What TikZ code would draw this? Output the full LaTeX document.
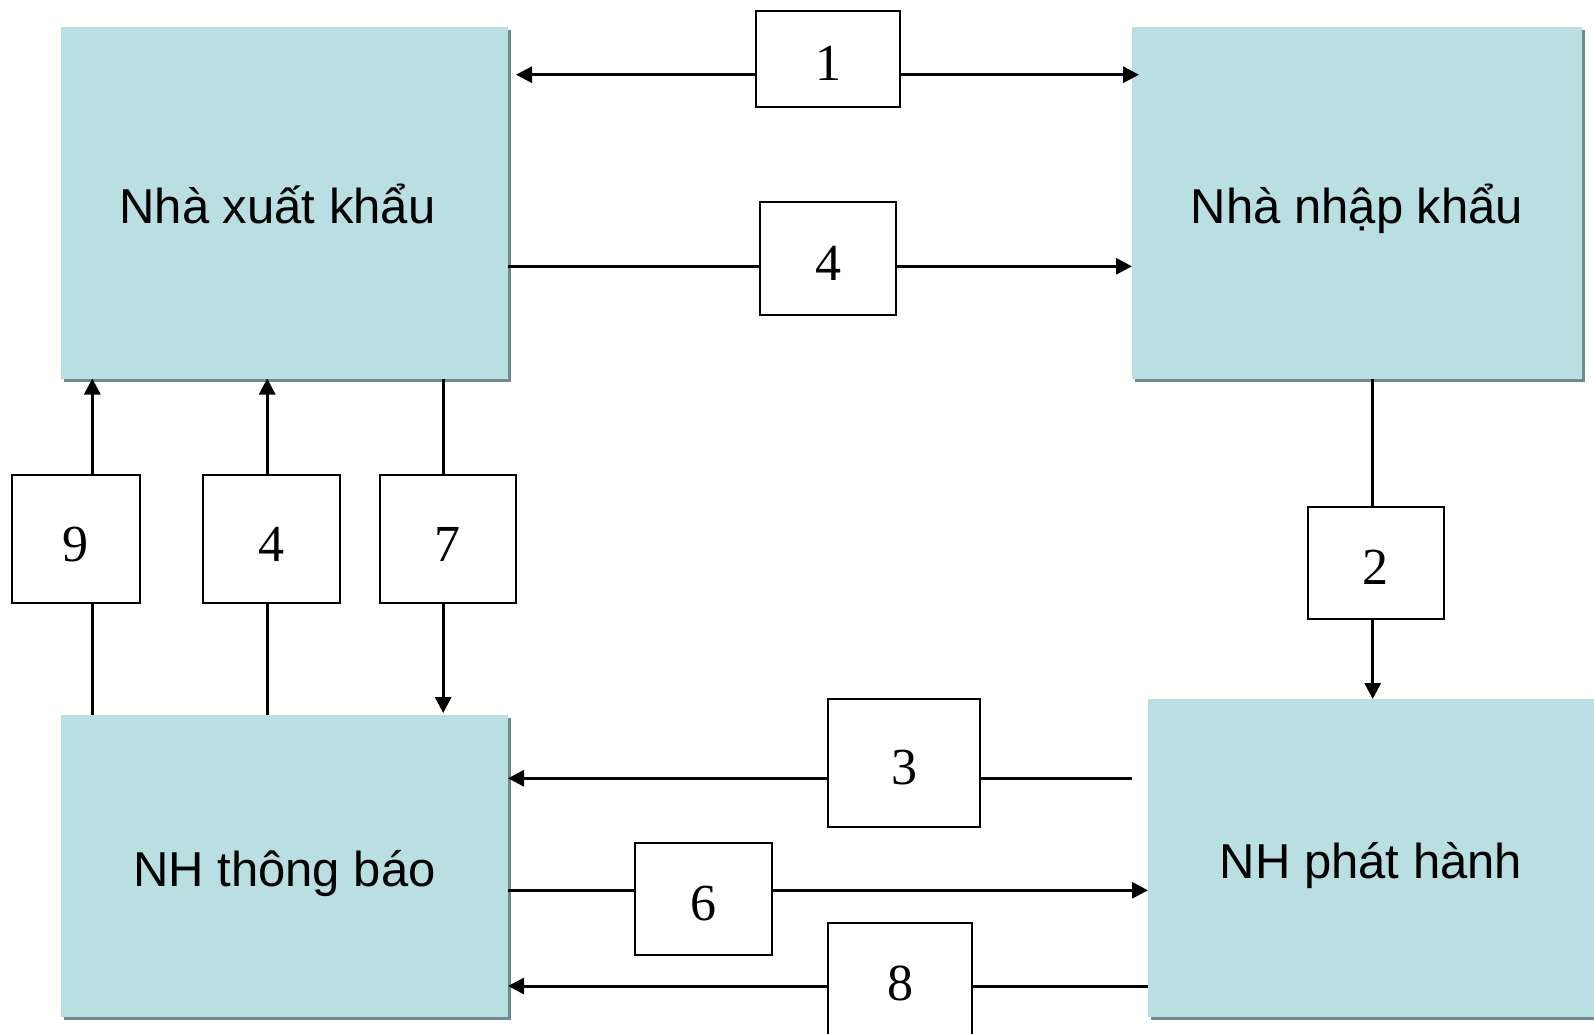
\documentclass[tikz,border=0pt]{standalone}
\usepackage{fontspec}
\setmainfont{Liberation Sans}
\newfontfamily\numfont{Liberation Serif}
\usetikzlibrary{positioning,arrows.meta,shadows}
\definecolor{partyfill}{HTML}{B9DFE2}
\definecolor{partyshade}{HTML}{6F8B8D}

\begin{document}
\begin{tikzpicture}[x=1pt,y=-1pt,
  party/.style={fill=partyfill,inner sep=0pt,outer sep=0pt,
    drop shadow={shadow xshift=3pt,shadow yshift=-3pt,fill=partyshade,opacity=1},
    font=\fontsize{49}{59}\selectfont,text height=40pt,text depth=0pt},
  stepno/.style={draw,line width=2pt,fill=white,inner sep=0pt,outer sep=0pt,
    font=\numfont\fontsize{52}{62}\selectfont,text height=44pt,text depth=0pt},
  flow/.style={line width=3pt},
  >={Triangle[length=16pt,width=16pt]}]
\path[use as bounding box] (0,0) rectangle (1594,1033);
\clip (0,0) rectangle (1594,1033);

\node[party,minimum width=447pt,minimum height=351pt] (exp) at (284.5,203) {Nhà xuất khẩu\hspace*{14pt}};
\node[party,minimum width=450pt,minimum height=351pt] (imp) at (1357,203) {Nhà nhập khẩu};
\node[party,minimum width=447pt,minimum height=302pt] (tb) at (284.5,866) {NH thông báo};
\node[party,minimum width=446pt,minimum height=318pt] (ph) at (1371,858) {NH phát hành};

\node[stepno,minimum width=144pt,minimum height=96pt] (s1) at (828,58.7) {1};
\node[stepno,minimum width=136pt,minimum height=113pt] (s4top) at (828,258.5) {4};
\node[stepno,minimum width=128pt,minimum height=128pt] (s9) at (75.8,539) {9};
\node[stepno,minimum width=137pt,minimum height=128pt] (s4left) at (271.9,539) {4};
\node[stepno,minimum width=136pt,minimum height=128pt] (s7) at (447.8,539) {7};
\node[stepno,minimum width=136pt,minimum height=112pt] (s2) at (1375.8,562.7) {2};
\node[stepno,minimum width=152pt,minimum height=128pt] (s3) at (904,762.8) {3};
\node[stepno,minimum width=137pt,minimum height=112pt] (s6) at (703.7,898.8) {6};
\node[stepno,minimum width=144pt,minimum height=112pt] (s8) at (900,978.7) {8};

\coordinate (r1) at ([yshift=-16pt]s1.center);
\coordinate (r4) at ([yshift=-7.8pt]s4top.center);
\coordinate (c9) at ([xshift=16.5pt]s9.center);
\coordinate (c4) at ([xshift=-4.7pt]s4left.center);
\coordinate (c7) at ([xshift=-4.6pt]s7.center);
\coordinate (c2) at ([xshift=-3.1pt]s2.center);
\coordinate (r3) at ([yshift=-15.5pt]s3.center);
\coordinate (r6) at ([yshift=8.5pt]s6.center);
\coordinate (r8) at ([yshift=-7.3pt]s8.center);

\draw[flow,->,shorten >=8pt] (s1.west |- r1) -- (exp.east |- r1);
\draw[flow,->,shorten >=-7pt] (s1.east |- r1) -- (imp.west |- r1);

\draw[flow] (exp.east |- r4) -- (s4top.west |- r4);
\draw[flow,->] (s4top.east |- r4) -- (imp.west |- r4);

\draw[flow,->] (s9.north -| c9) -- (exp.south -| c9);
\draw[flow] (s9.south -| c9) -- (tb.north -| c9);
\draw[flow,->] (s4left.north -| c4) -- (exp.south -| c4);
\draw[flow] (s4left.south -| c4) -- (tb.north -| c4);
\draw[flow] (exp.south -| c7) -- (s7.north -| c7);
\draw[flow,->,shorten >=2pt] (s7.south -| c7) -- (tb.north -| c7);

\draw[flow] (imp.south -| c2) -- (s2.north -| c2);
\draw[flow,->] (s2.south -| c2) -- (ph.north -| c2);

\draw[flow,shorten <=16pt] (ph.west |- r3) -- (s3.east |- r3);
\draw[flow,->] (s3.west |- r3) -- (tb.east |- r3);
\draw[flow] (tb.east |- r6) -- (s6.west |- r6);
\draw[flow,->] (s6.east |- r6) -- (ph.west |- r6);
\draw[flow] (ph.west |- r8) -- (s8.east |- r8);
\draw[flow,->] (s8.west |- r8) -- (tb.east |- r8);

\end{tikzpicture}
\end{document}
